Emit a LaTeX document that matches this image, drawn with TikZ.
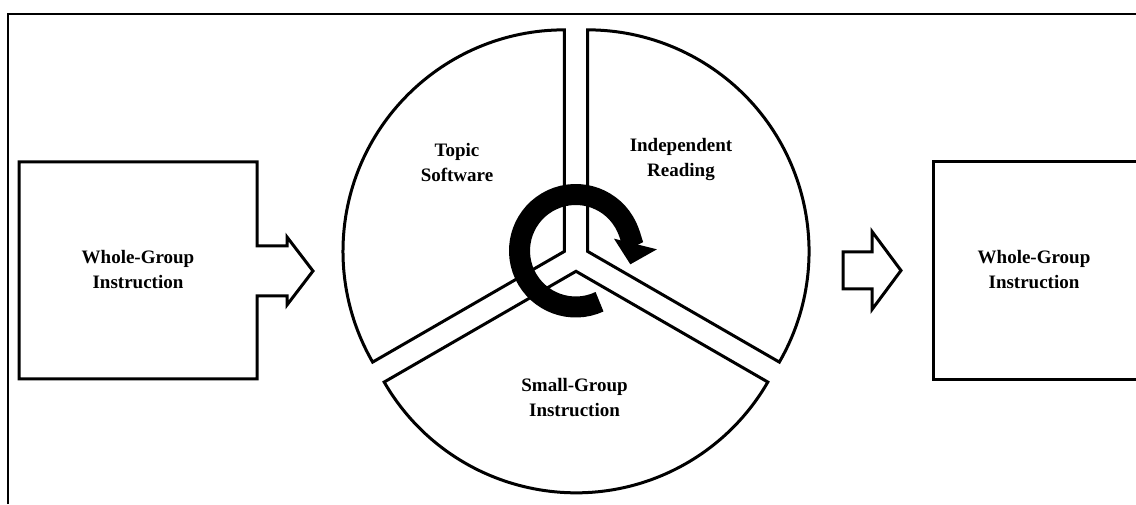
\documentclass[tikz,border=0pt]{standalone}
\usepackage{fontspec}
\setmainfont{Liberation Serif}
\usetikzlibrary{arrows.meta,calc}

\begin{document}
\begin{tikzpicture}[x=1pt, y=1pt,
    txt/.style={font=\fontsize{19}{25}\selectfont\bfseries, align=center, inner sep=0pt},
    outline/.style={draw=black, line width=3pt, line join=miter},
    wedge/.style={draw=black, fill=white, line width=3pt}]
      \useasboundingbox (0,0) rectangle (1136,504);

      % Frame
      \draw[line width=2pt] (8,0) -- (8,490) -- (1136,490);

      % Whole-Group Instruction (left) with its arrow
      \draw[outline] (19,125) -- (19,342) -- (257,342) -- (257,258) -- (287,258) -- (287,267)
        -- (313,233) -- (287,199) -- (287,208) -- (257,208) -- (257,125) -- cycle;
      \node[txt] (wgleft) at (138,234) {Whole-Group\\Instruction};

      % Rotation wheel
      \coordinate (hub) at (576,246);
      \coordinate (topicc) at ($(hub)+(150:13.3)$);
      \coordinate (readc) at ($(hub)+(30:13.3)$);
      \coordinate (groupc) at ($(hub)+(270:13.3)$);
      \draw[wedge] (topicc) -- ++(90:221.5) arc[start angle=90, end angle=210, radius=221.5] -- cycle;
      \draw[wedge] (readc) -- ++(-30:221.5) arc[start angle=-30, end angle=90, radius=221.5] -- cycle;
      \draw[wedge] (groupc) -- ++(210:221.5) arc[start angle=210, end angle=330, radius=221.5] -- cycle;
      \node[txt] (topic) at (457,341) {Topic\\Software};
      \node[txt] (reading) at (681,344) {Independent\\Reading};
      \node[txt] (smallgroup) at (574.5,106.5) {Small-Group\\Instruction};

      % Rotation arrow
      \coordinate (turn) at (575.75,253.25);
      \draw[line width=21pt, -{Triangle[width=43pt, length=21pt]}] ($(turn)+(-65:56.25)$)
        arc[start angle=-65, end angle=-374, radius=56.25];

      % Arrow to the next block
      \draw[outline] (843,252) -- (872,252) -- (872,272.5) -- (901,233.5) -- (872,194.5)
        -- (872,215) -- (843,215) -- cycle;

      % Whole-Group Instruction (right)
      \draw[outline] (933,124) rectangle (1139,342);
      \node[txt] (wgright) at (1034,234) {Whole-Group\\Instruction};
    \end{tikzpicture}
\end{document}
